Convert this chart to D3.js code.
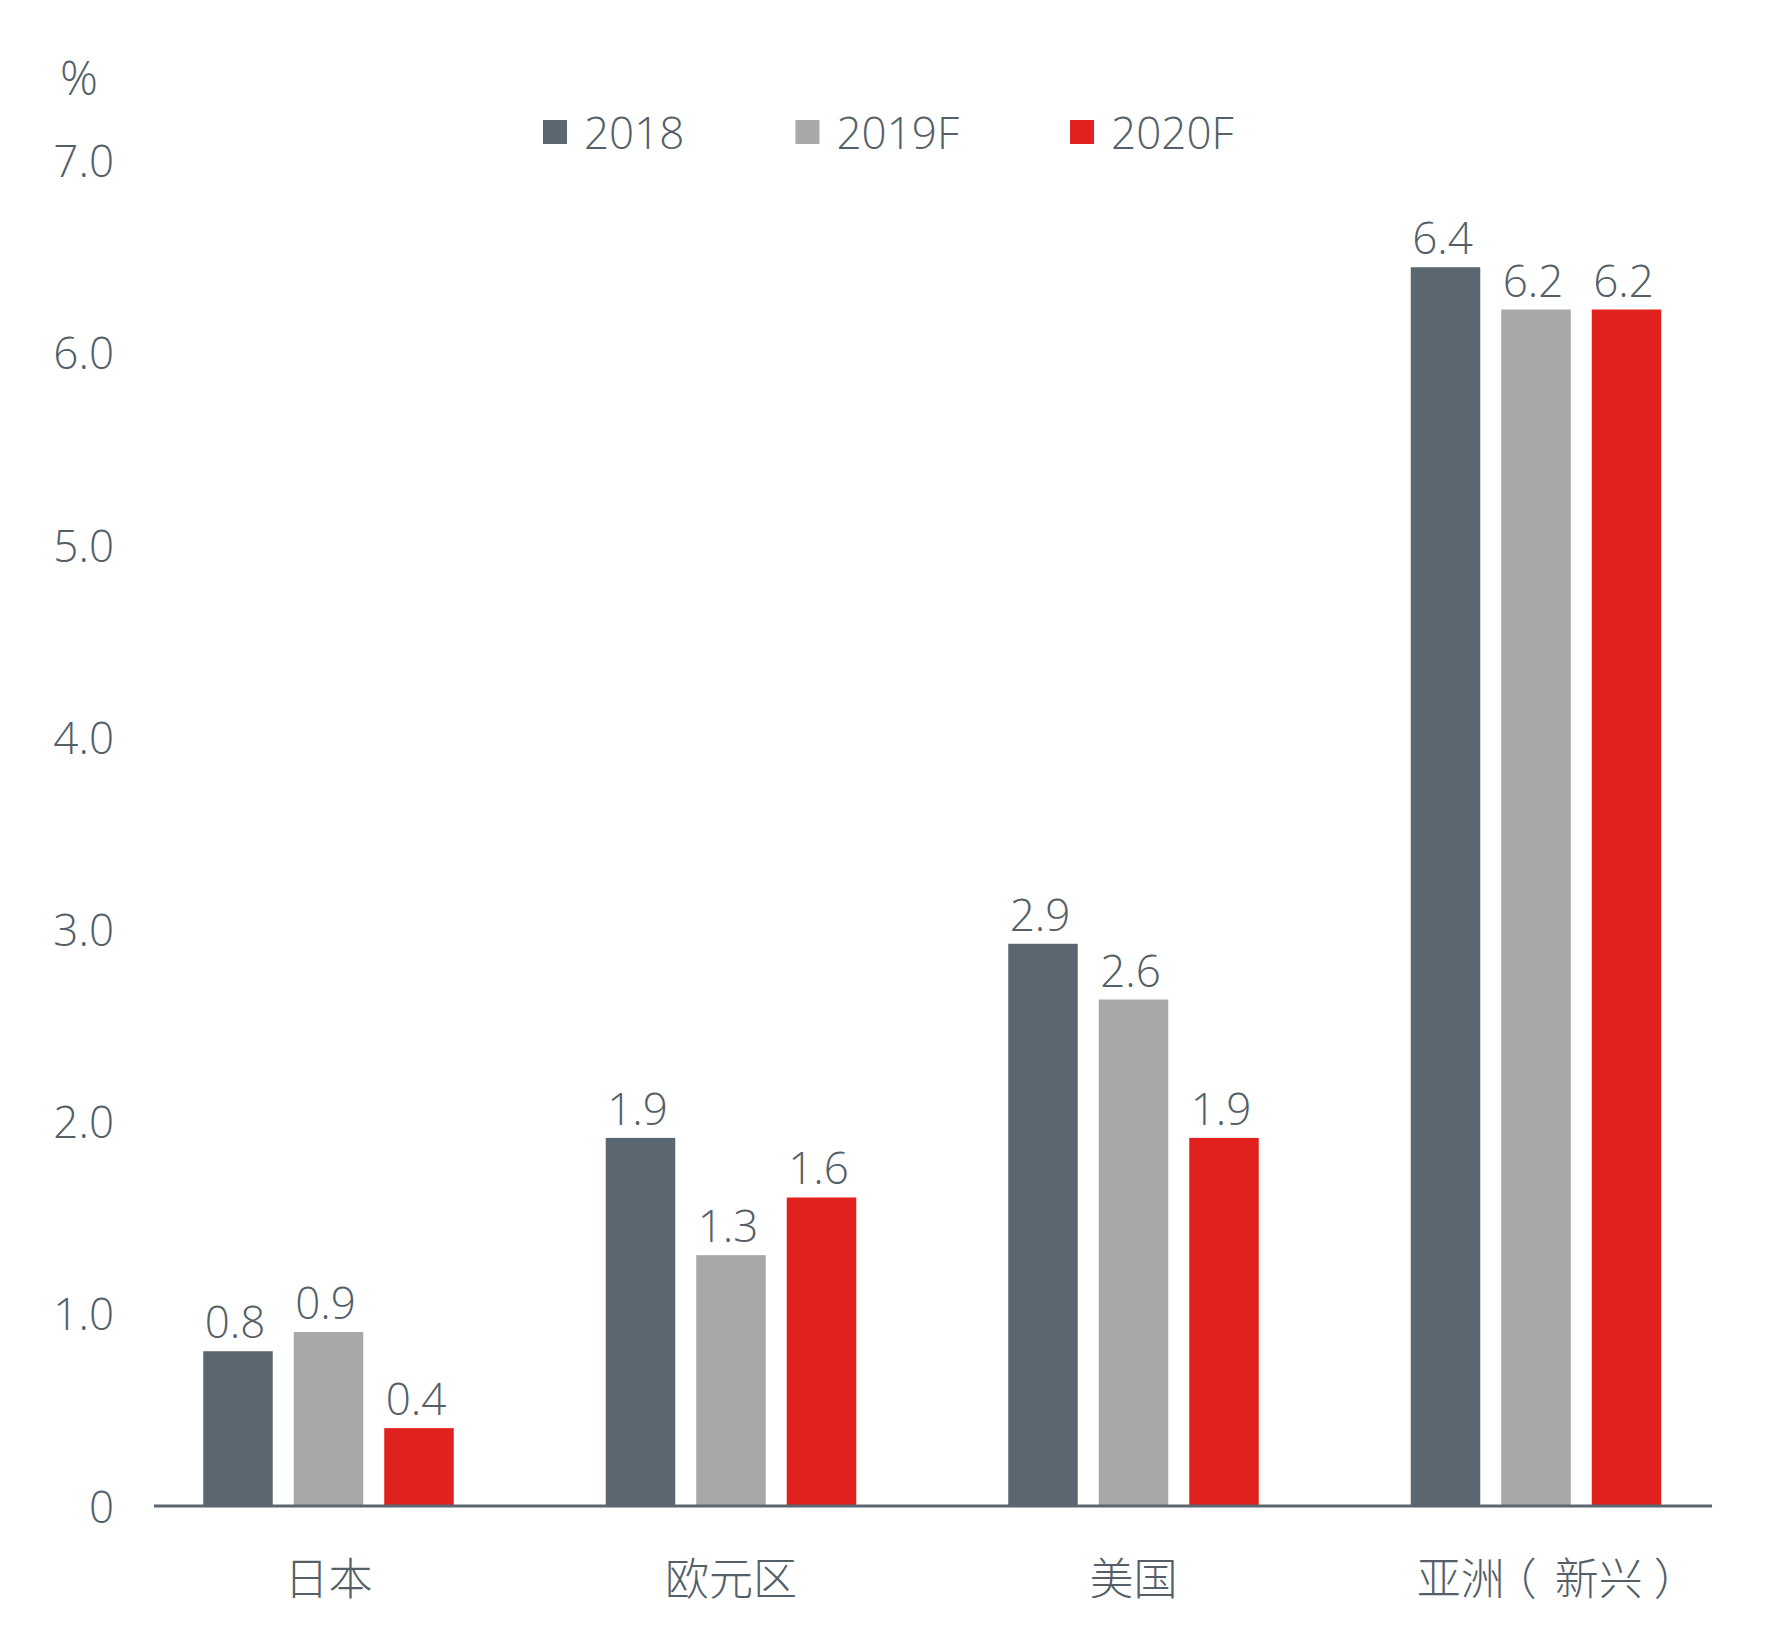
<!DOCTYPE html>
<html>
<head>
<meta charset="utf-8">
<script src="https://cdn.jsdelivr.net/npm/d3@7"></script>
<style>
  html, body { margin: 0; padding: 0; background: #fff; }
  svg text { font-family: "Open Sans", "Noto Sans", sans-serif; font-weight: 300; fill: #545f68; }
  .cat text { font-family: "Noto Sans CJK SC", sans-serif; }
</style>
</head>
<body>
<svg width="1773" height="1632"></svg>
<script>
const categories = ["日本", "欧元区", "美国", "亚洲（新兴）"];
const seriesNames = ["2018", "2019F", "2020F"];
const values2018 = [0.8, 1.91, 2.92, 6.44];
const values2019F = [0.9, 1.3, 2.63, 6.22];
const values2020F = [0.4, 1.6, 1.91, 6.22];
const yTicks = [0, 1, 2, 3, 4, 5, 6, 7];

const colors = ["#5b6770", "#a7a8aa", "#e1211e"];
const series = [values2018, values2019F, values2020F];

const svg = d3.select("svg");

// scales
const y = d3.scaleLinear().domain([0, 7]).range([1505, 159.6]);
const x0 = d3.scaleBand().domain(categories).range([127.25, 1737.25]);
const x1 = d3
  .scaleBand()
  .domain(seriesNames)
  .range([76, 326.5])
  .paddingInner(0.232)
  .paddingOuter(0);

// y axis labels (no line)
const yAxis = d3
  .axisLeft(y)
  .tickValues(yTicks)
  .tickSize(0)
  .tickPadding(0)
  .tickFormat(d => (d === 0 ? "0" : d.toFixed(1)));
const gy = svg
  .append("g")
  .attr("transform", "translate(114,0)")
  .call(yAxis);
gy.select(".domain").remove();
gy.selectAll("text")
  .attr("font-size", 44)
  .attr("dy", null)
  .attr("y", 17);

svg
  .append("text")
  .attr("x", 60)
  .attr("y", 95)
  .attr("font-size", 47)
  .text("%");

// bars
const groups = svg
  .selectAll("g.group")
  .data(categories)
  .enter()
  .append("g")
  .attr("class", "group")
  .attr("transform", d => `translate(${x0(d)},0)`);

groups.each(function(cat, ci) {
  const g = d3.select(this);
  seriesNames.forEach((s, si) => {
    const v = series[si][ci];
    g.append("rect")
      .attr("x", x1(s))
      .attr("y", y(v))
      .attr("width", x1.bandwidth())
      .attr("height", y(0) - y(v))
      .attr("fill", colors[si]);
    g.append("text")
      .attr("x", x1(s) + x1.bandwidth() / 2 - 3)
      .attr("y", y(v) - 13)
      .attr("text-anchor", "middle")
      .attr("font-size", 44)
      .text(d3.format(".1f")(v));
  });
});

// x axis line
svg
  .append("line")
  .attr("x1", 154)
  .attr("x2", 1712)
  .attr("y1", y(0) + 1)
  .attr("y2", y(0) + 1)
  .attr("stroke", "#5b6770")
  .attr("stroke-width", 3);

// category labels
const gx = svg.append("g").attr("class", "cat");
categories.forEach(cat => {
  const t = gx
    .append("text")
    .attr("y", 1595)
    .attr("font-size", 44);
  if (cat.includes("（")) {
    // parens drawn centred in their cells, as in the original
    const parts = cat.match(/^(.*?)（(.*?)）$/);
    t.attr("x", x0(cat) + 82).attr("text-anchor", "start");
    t.append("tspan").text(parts[1]);
    t.append("tspan").attr("dx", -12).text("（");
    t.append("tspan").attr("dx", 18).text(parts[2]);
    t.append("tspan").attr("dx", 11).text("）");
  } else {
    t.attr("x", x0(cat) + x0.bandwidth() / 2)
      .attr("text-anchor", "middle")
      .text(cat);
  }
});

// legend
let lx = 543;
seriesNames.forEach((s, i) => {
  svg
    .append("rect")
    .attr("x", lx)
    .attr("y", 120)
    .attr("width", 24)
    .attr("height", 24)
    .attr("fill", colors[i]);
  const t = svg
    .append("text")
    .attr("x", lx + 41)
    .attr("y", 149)
    .attr("font-size", 44)
    .text(s);
  lx += 41 + t.node().getComputedTextLength() + 111;
});
</script>
</body>
</html>
